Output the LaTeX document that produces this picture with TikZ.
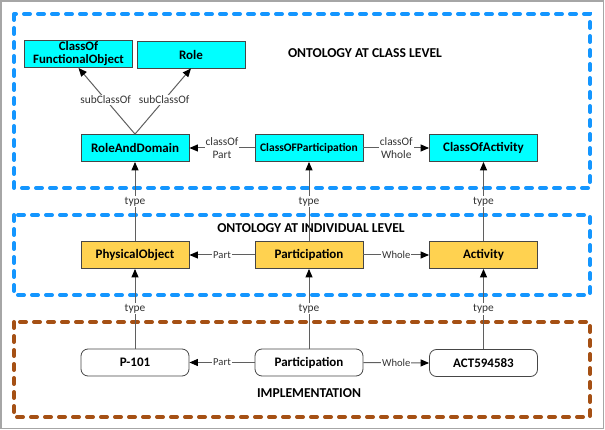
\documentclass[tikz,border=0pt]{standalone}
\usepackage{fontspec}
\setmainfont{Carlito}
\usetikzlibrary{arrows.meta}
\definecolor{bluedash}{RGB}{20,150,255}
\definecolor{browndash}{RGB}{165,80,20}
\definecolor{cyanfill}{RGB}{0,255,255}
\definecolor{yellowfill}{RGB}{255,210,80}
\definecolor{linegray}{RGB}{95,95,95}
\definecolor{bordergray}{RGB}{70,70,70}
\tikzset{
  box/.style={draw=bordergray, line width=0.8pt, minimum width=108pt, minimum height=27pt,
    inner sep=1pt, align=center, font=\fontsize{13}{14}\selectfont\bfseries, text=black},
  classbox/.style={box, fill=cyanfill},
  indbox/.style={box, fill=yellowfill},
  implbox/.style={box, fill=white, rounded corners=7pt},
  region/.style={line width=4pt, dash pattern=on 6pt off 8pt, line cap=round},
  conn/.style={draw=linegray, line width=1pt, -{Triangle[length=8.5pt,width=7pt,color=black]}},
  lbl/.style={fill=white, inner sep=1pt, font=\fontsize{11.4}{13}\selectfont, text=black!80, align=center},
  slbl/.style={fill=white, inner sep=0.8pt, font=\fontsize{10.6}{11}\selectfont, text=black!80},
  title/.style={font=\fontsize{13.6}{15}\selectfont\bfseries, text=black}
}
\begin{document}
\begin{tikzpicture}[x=1pt,y=-1pt]
\useasboundingbox (0,0) rectangle (605,430);
\draw[gray!70, line width=1.2pt] (1,1) rectangle (603.5,428.5);
% regions
\draw[region, draw=bluedash] (14,14) rectangle (590,188);
\draw[region, draw=bluedash] (14,215) rectangle (590,295);
\draw[region, draw=browndash] (14,322) rectangle (590,417);
% titles
\node[title] (t1) at (365,53) {ONTOLOGY AT CLASS LEVEL};
\node[title] (t2) at (311,228) {ONTOLOGY AT INDIVIDUAL LEVEL};
\node[title] (t3) at (309,393) {IMPLEMENTATION};
% class level
\node[classbox, font=\fontsize{12.8}{13}\selectfont\bfseries] (cfo) at (78.5,54) {ClassOf\\FunctionalObject};
\node[classbox] (role) at (191,54.5) {Role};
\node[classbox] (rad) at (135,148) {RoleAndDomain};
\node[classbox, font=\fontsize{11.5}{12}\selectfont\bfseries] (cp) at (309,148) {ClassOFParticipation};
\node[classbox] (ca) at (483.5,148) {ClassOfActivity};
% individual level
\node[indbox] (po) at (135,255) {PhysicalObject};
\node[indbox] (pa) at (309,255) {Participation};
\node[indbox] (ac) at (483.5,255) {Activity};
% implementation
\node[implbox] (p101) at (135,362.5) {P-101};
\node[implbox] (pi) at (309,362.5) {Participation};
\node[implbox] (act) at (483.5,363) {ACT594583};
% connectors
\draw[conn] (rad.north) -- node[lbl, pos=0.52] (l1) {subClassOf} (cfo.south);
\draw[conn] (rad.north) -- node[lbl, pos=0.52] (l2) {subClassOf} (role.south);
\draw[conn] (cp.west) -- node[lbl] (l3) {classOf\\Part} (rad.east);
\draw[conn] (cp.east) -- node[lbl] (l4) {classOf\\Whole} (ca.west);
\draw[conn] (po.north) -- node[lbl] (l5) {type} (rad.south);
\draw[conn] (pa.north) -- node[lbl] (l6) {type} (cp.south);
\draw[conn] (ac.north) -- node[lbl] (l7) {type} (ca.south);
\draw[conn] (pa.west) -- node[slbl] (l8) {Part} (po.east);
\draw[conn] (pa.east) -- node[slbl] (l9) {Whole} (ac.west);
\draw[conn] (p101.north) -- node[lbl] (l10) {type} (po.south);
\draw[conn] (pi.north) -- node[lbl] (l11) {type} (pa.south);
\draw[conn] (act.north) -- node[lbl] (l12) {type} (ac.south);
\draw[conn] (pi.west) -- node[slbl] (l13) {Part} (p101.east);
\draw[conn] (pi.east) -- node[slbl] (l14) {Whole} (act.west);
\end{tikzpicture}
\end{document}
